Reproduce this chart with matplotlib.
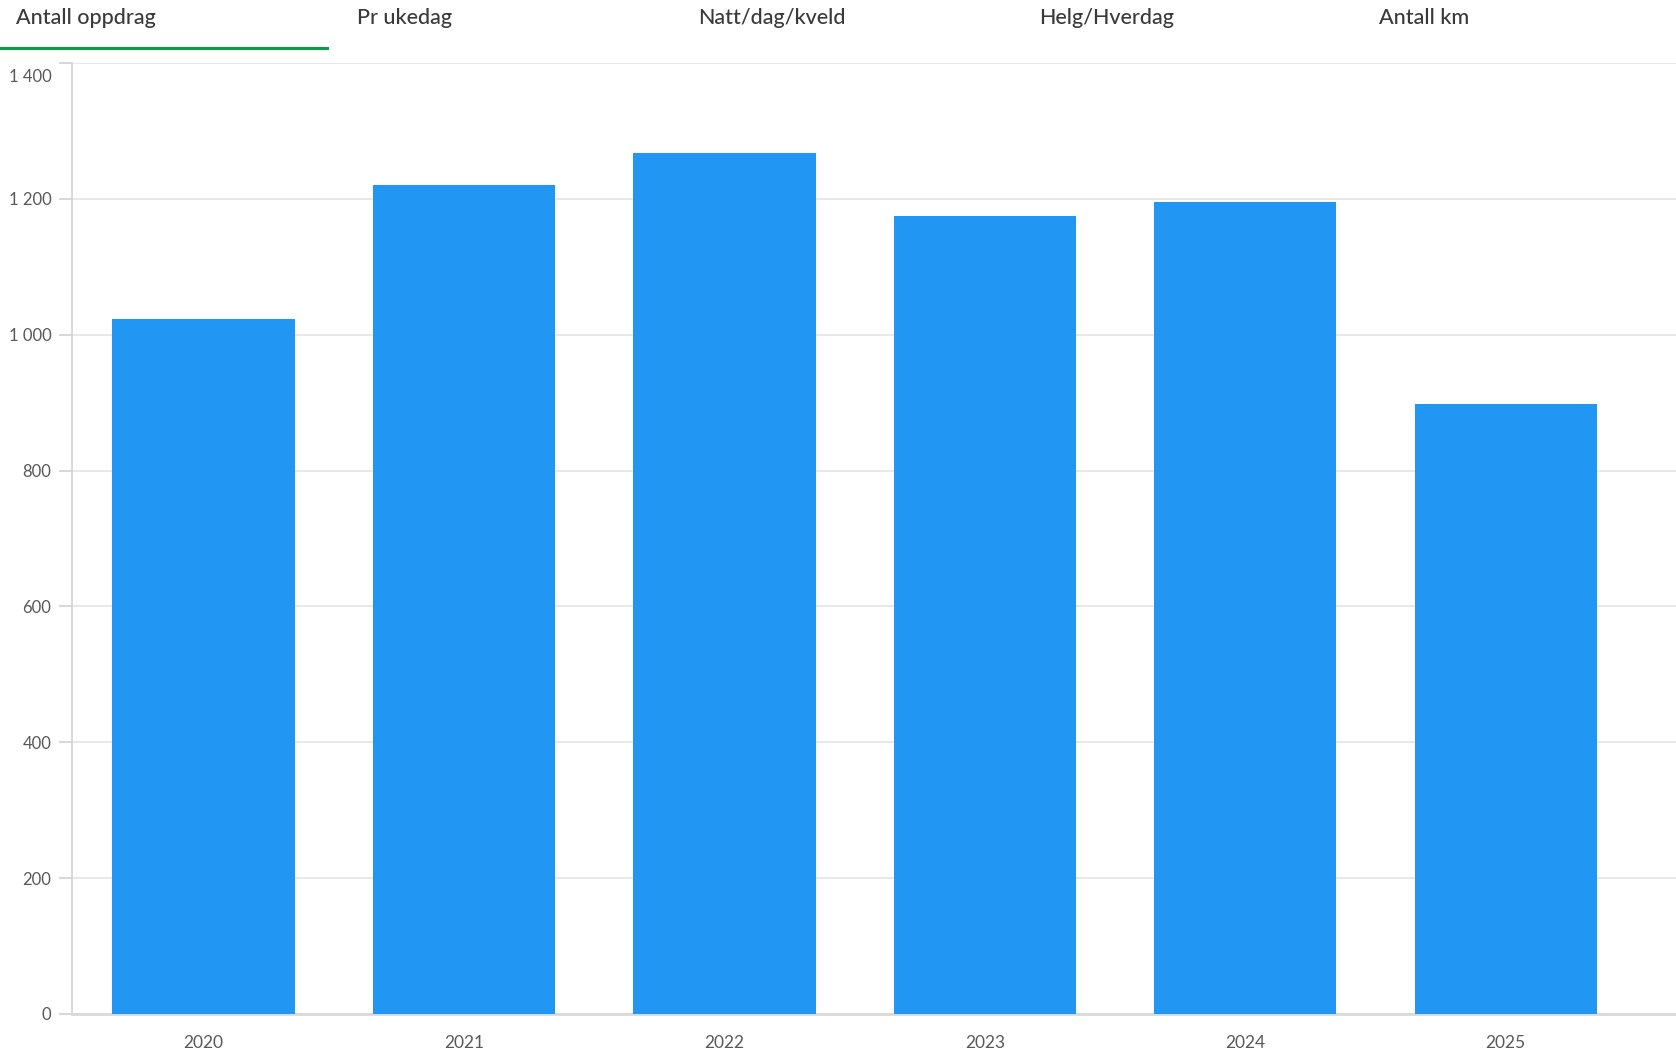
import numpy as np
import matplotlib.pyplot as plt
from matplotlib.ticker import FuncFormatter
from matplotlib.transforms import ScaledTranslation

# Data
years = ['2020', '2021', '2022', '2023', '2024', '2025']
oppdrag = [1023, 1220, 1267, 1175, 1195, 898]
tabs = ['Antall oppdrag', 'Pr ukedag', 'Natt/dag/kveld', 'Helg/Hverdag', 'Antall km']

plt.rcParams['font.family'] = ['Lato', 'DejaVu Sans']

fig = plt.figure(figsize=(16.76, 10.54), dpi=100)
ax = fig.add_axes([0.0427, 0.038, 0.9573, 0.9022])

x = np.arange(len(years))
ax.bar(x, oppdrag, width=0.70, color='#2196F3', zorder=3)

ax.set_xlim(-0.507, 5.654)
ax.set_ylim(0, 1400)
ax.set_xticks(x)
ax.set_xticklabels(years)
ax.set_yticks(np.arange(0, 1401, 200))
ax.yaxis.set_major_formatter(FuncFormatter(lambda v, p: format(int(v), ',').replace(',', ' ')))

ax.grid(axis='y', color='#e6e6e6', linewidth=1.3, zorder=0)
for s in ['top', 'right']:
    ax.spines[s].set_visible(False)
ax.spines['left'].set_color('#d4d4d4')
ax.spines['left'].set_linewidth(1.3)
ax.spines['bottom'].set_color('#d9d9d9')
ax.spines['bottom'].set_linewidth(2)
ax.tick_params(axis='y', length=9.5, width=1.3, color='#d4d4d4', pad=5,
               labelsize=12, labelcolor='#595959')
ax.tick_params(axis='x', length=0, pad=15.5, labelsize=12.5, labelcolor='#595959')

# top label sits a bit lower so it stays inside the chart
top = ax.yaxis.get_major_ticks()[-1].label1
top.set_transform(top.get_transform() + ScaledTranslation(0, -0.12, fig.dpi_scale_trans))

# Tab bar on top
tab_x = [16, 357, 698, 1039, 1379]
for t, tx in zip(tabs, tab_x):
    fig.text(tx / 1676, 1 - 18 / 1054, t, ha='left', va='center',
             fontsize=15.5, color='#3a3a3a', fontweight='medium')
fig.add_artist(plt.Line2D([0, 327 / 1676], [1 - 48 / 1054] * 2,
                          color='#0c9a47', linewidth=2.2))

fig.savefig('out.png', dpi=100)
